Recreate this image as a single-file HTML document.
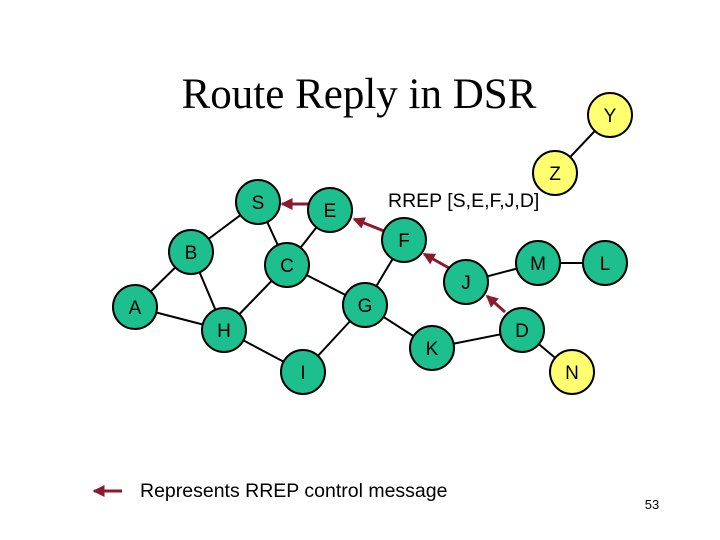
<!DOCTYPE html>
<html><head><style>
html,body{margin:0;padding:0;background:#fff;}
</style></head><body>
<svg width="720" height="540" xmlns="http://www.w3.org/2000/svg" style="display:block">
<text x="359" y="108" text-anchor="middle" font-family="Liberation Serif, serif" font-size="43" fill="#000">Route Reply in DSR</text>
<g stroke="#000" stroke-width="2">
<line x1="258" y1="202" x2="191" y2="252"/>
<line x1="258" y1="202" x2="287" y2="265"/>
<line x1="330" y1="210" x2="287" y2="265"/>
<line x1="191" y1="252" x2="135" y2="307"/>
<line x1="191" y1="252" x2="224" y2="330"/>
<line x1="135" y1="307" x2="224" y2="330"/>
<line x1="287" y1="265" x2="224" y2="330"/>
<line x1="287" y1="265" x2="365" y2="305"/>
<line x1="404" y1="240" x2="365" y2="305"/>
<line x1="365" y1="305" x2="303" y2="372"/>
<line x1="224" y1="330" x2="303" y2="372"/>
<line x1="365" y1="305" x2="432" y2="348"/>
<line x1="432" y1="348" x2="522" y2="330"/>
<line x1="522" y1="330" x2="572" y2="372"/>
<line x1="466" y1="282" x2="538" y2="263"/>
<line x1="538" y1="263" x2="605" y2="263"/>
<line x1="555" y1="173" x2="610" y2="115"/>
</g>
<defs><marker id="ah" markerWidth="4" markerHeight="4" refX="3.5" refY="2" orient="auto"><path d="M0,0 L4,2 L0,4 z" fill="#8b1a2e"/></marker></defs>
<g stroke="#8b1a2e" stroke-width="3" marker-end="url(#ah)">
<line x1="308" y1="204" x2="282" y2="204"/>
<line x1="384" y1="231" x2="354" y2="219"/>
<line x1="449" y1="268" x2="424" y2="254"/>
<line x1="505" y1="312" x2="487" y2="296"/>
</g>
<g stroke="#000" stroke-width="2" fill="#1dbf8e">
<circle cx="258" cy="202" r="22"/><circle cx="330" cy="210" r="22"/>
<circle cx="191" cy="252" r="22"/><circle cx="287" cy="265" r="22"/>
<circle cx="404" cy="240" r="22"/><circle cx="135" cy="307" r="22"/>
<circle cx="224" cy="330" r="22"/><circle cx="365" cy="305" r="22"/>
<circle cx="303" cy="372" r="22"/><circle cx="432" cy="348" r="22"/>
<circle cx="466" cy="282" r="22"/><circle cx="538" cy="263" r="22"/>
<circle cx="605" cy="263" r="22"/><circle cx="522" cy="330" r="22"/>
</g>
<g stroke="#000" stroke-width="2" fill="#ffff70">
<circle cx="572" cy="372" r="22"/><circle cx="555" cy="173" r="22"/><circle cx="610" cy="115" r="22"/>
</g>
<g font-family="Liberation Sans, sans-serif" font-size="19" text-anchor="middle" fill="#000">
<text x="258" y="209">S</text><text x="330" y="217">E</text><text x="191" y="259">B</text>
<text x="287" y="272">C</text><text x="404" y="247">F</text><text x="135" y="314">A</text>
<text x="224" y="337">H</text><text x="365" y="312">G</text><text x="303" y="379">I</text>
<text x="432" y="355">K</text><text x="466" y="289">J</text><text x="538" y="270">M</text>
<text x="605" y="270">L</text><text x="522" y="337">D</text><text x="572" y="379">N</text>
<text x="555" y="180">Z</text><text x="610" y="122">Y</text>
</g>
<text x="388" y="207" font-family="Liberation Sans, sans-serif" font-size="19.5">RREP [S,E,F,J,D]</text>
<line x1="122" y1="491" x2="94" y2="491" stroke="#8b1a2e" stroke-width="3" marker-end="url(#ah)"/>
<text x="140" y="497" font-family="Liberation Sans, sans-serif" font-size="19.5">Represents RREP control message</text>
<text x="652" y="509" text-anchor="middle" font-family="Liberation Sans, sans-serif" font-size="13">53</text>
</svg>
</body></html>
